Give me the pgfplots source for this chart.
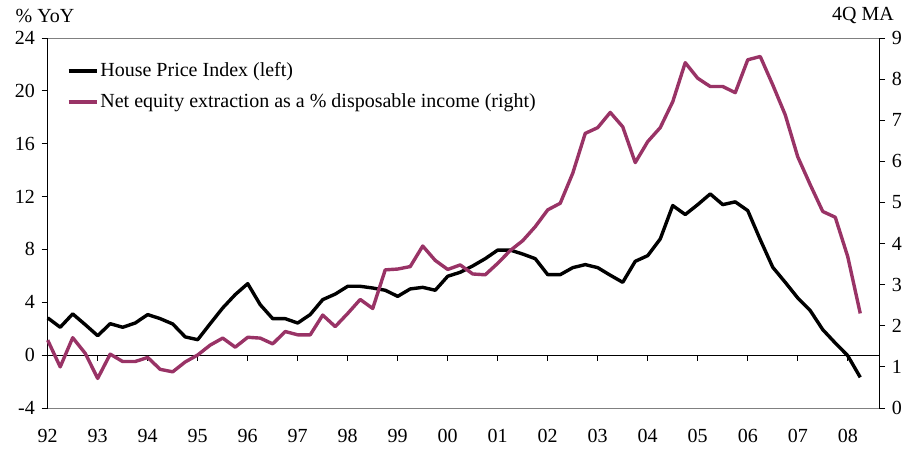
\documentclass[border=0pt]{standalone}
\usepackage{fontspec}
\setmainfont{Liberation Serif}
\usepackage{pgfplots}
\pgfplotsset{compat=1.18}
\definecolor{plum}{HTML}{993366}
\definecolor{frame}{HTML}{808080}

\pgfplotstableread{
i v
0 2.82
1 2.11
2 3.12
3 2.31
4 1.47
5 2.38
6 2.11
7 2.43
8 3.07
9 2.76
10 2.36
11 1.38
12 1.17
13 2.38
14 3.57
15 4.58
16 5.41
17 3.82
18 2.76
19 2.76
20 2.43
21 3.07
22 4.20
23 4.62
24 5.21
25 5.21
26 5.08
27 4.91
28 4.45
29 5.01
30 5.13
31 4.91
32 5.97
33 6.27
34 6.75
35 7.30
36 7.95
37 7.95
38 7.65
39 7.30
40 6.09
41 6.09
42 6.62
43 6.85
44 6.62
45 6.05
46 5.51
47 7.10
48 7.53
49 8.79
50 11.32
51 10.64
52 11.39
53 12.20
54 11.39
55 11.60
56 10.94
57 8.74
58 6.65
59 5.51
60 4.33
61 3.37
62 1.93
63 0.92
64 -0.04
65 -1.68
}\hpi

\pgfplotstableread{
i v
0 1.65
1 1.00
2 1.71
3 1.33
4 0.72
5 1.31
6 1.13
7 1.13
8 1.23
9 0.94
10 0.88
11 1.12
12 1.29
13 1.53
14 1.70
15 1.48
16 1.72
17 1.70
18 1.56
19 1.86
20 1.78
21 1.78
22 2.26
23 1.98
24 2.30
25 2.64
26 2.42
27 3.36
28 3.38
29 3.44
30 3.94
31 3.59
32 3.37
33 3.48
34 3.26
35 3.24
36 3.52
37 3.83
38 4.07
39 4.41
40 4.82
41 4.98
42 5.71
43 6.68
44 6.82
45 7.19
46 6.84
47 5.97
48 6.48
49 6.82
50 7.45
51 8.40
52 8.02
53 7.82
54 7.82
55 7.67
56 8.47
57 8.55
58 7.86
59 7.13
60 6.11
61 5.43
62 4.78
63 4.64
64 3.68
65 2.30
}\mew

\begin{document}
\fontsize{20pt}{24pt}\selectfont
\begin{tikzpicture}[x=1pt,y=1pt]
\useasboundingbox (0,0) rectangle (916,449);
\pgfplotsset{
  chartbase/.style={
    at={(47.7pt,41pt)}, anchor=south west,
    scale only axis, width=831.3pt, height=370pt,
    xmin=0, xmax=66.5,
    tick label style={font=\fontsize{20pt}{24pt}\selectfont},
    /pgf/number format/assume math mode=true,
    tick align=outside,
    major tick length=6pt,
    clip=false,
  }
}
\begin{axis}[
  chartbase,
  ymin=-4, ymax=24,
  ytick={-4,0,4,...,24},
  ytick pos=left,
  separate axis lines,
  x axis line style={draw=frame, line width=0.8pt},
  y axis line style={draw=black, line width=0.9pt},
  ytick style={black, line width=0.9pt},
  xtick={0,4,...,64},
  xticklabels={92,93,94,95,96,97,98,99,00,01,02,03,04,05,06,07,08},
  xtick style={draw=none},
  xtick pos=bottom,
  xticklabel style={yshift=-8pt},
  legend style={at={(rel axis cs:0.023,0.94)}, anchor=north west, draw=none, fill=none,
    inner sep=0pt, row sep=10pt, nodes={inner sep=2pt},
    font=\fontsize{20pt}{24pt}\selectfont},
  legend cell align=left,
  legend image code/.code={\draw[#1] (0pt,0pt) -- (28pt,0pt);},
]
\draw[black, line width=0.9pt] (axis cs:0,0) -- (axis cs:66.5,0);
\pgfplotsinvokeforeach{4,8,...,64}{\draw[black, line width=0.9pt] (axis cs:#1,0) -- ++(0pt,-6pt);}
\addplot[black, line width=3.4pt, line join=round] table[x=i,y=v] {\hpi};
\addlegendentry{House Price Index (left)}
\addlegendimage{plum, line width=3.4pt}
\addlegendentry{Net equity extraction as a \% disposable income (right)}
\end{axis}
\begin{axis}[
  chartbase,
  ymin=0, ymax=9,
  ytick={0,1,...,9},
  axis x line=none,
  axis y line*=right,
  y axis line style={draw=black, line width=0.9pt},
  ytick style={black, line width=0.9pt},
]
\addplot[plum, line width=3.4pt, line join=round] table[x=i,y=v] {\mew};
\end{axis}
\node at (45,433) {\% YoY};
\node at (863,433) {4Q MA};
\end{tikzpicture}
\end{document}
